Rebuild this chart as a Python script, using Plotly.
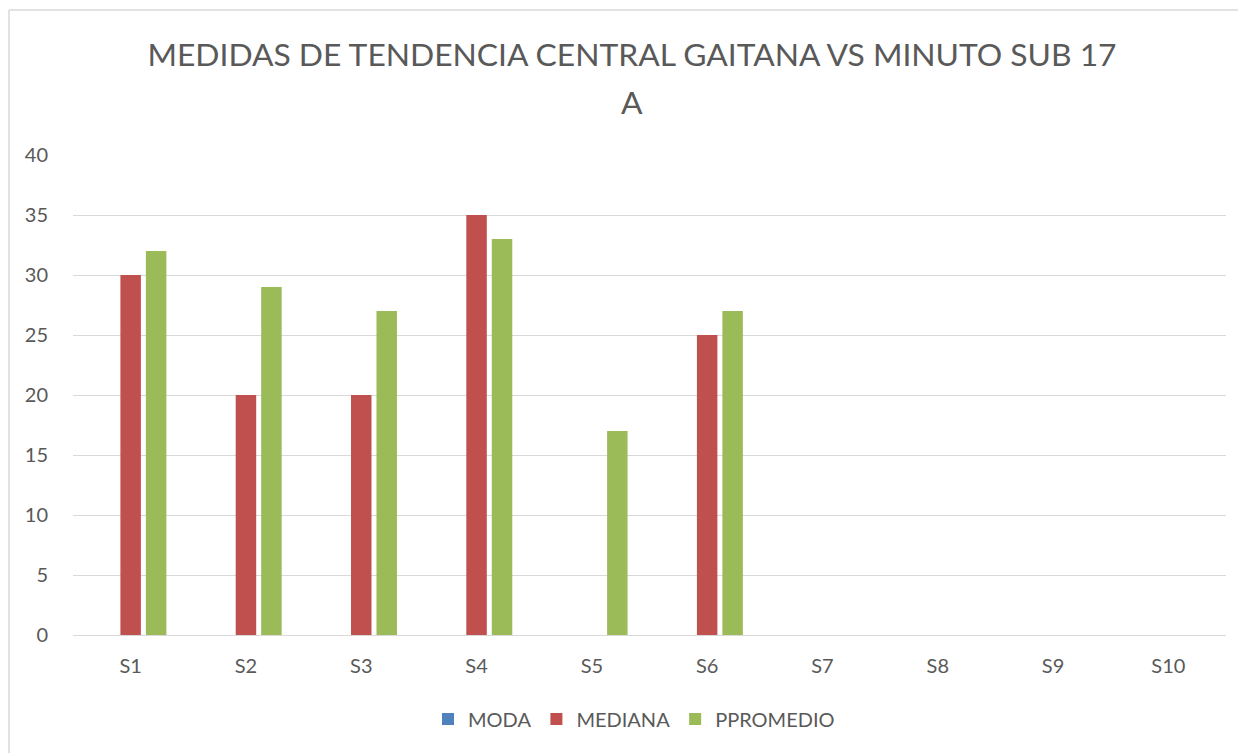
import plotly.graph_objects as go

categories = ["S1", "S2", "S3", "S4", "S5", "S6", "S7", "S8", "S9", "S10"]
moda = [0, 0, 0, 0, 0, 0, 0, 0, 0, 0]
mediana = [30, 20, 20, 35, 0, 25, 0, 0, 0, 0]
promedio = [32, 29, 27, 33, 17, 27, 0, 0, 0, 0]

series = [
    ("MODA", moda, "#4F81BD"),
    ("MEDIANA", mediana, "#C0504D"),
    ("PPROMEDIO", promedio, "#9BBB59"),
]

FONT = "Lato"
TXT = "#595959"

fig = go.Figure()
for name, vals, col in series:
    fig.add_trace(go.Bar(x=categories, y=vals, name=name, marker=dict(color=col, line=dict(width=0))))

OFF = 8  # page body margin
W, H = 1246 - OFF, 753 - OFF
L, R, T, B = 73 - OFF, 20, 155 - OFF, 118
pw, ph = W - L - R, H - T - B

def px(xv):
    return (xv - OFF - L) / pw

def py(yv):
    return (H - B - (yv - OFF)) / ph

fig.update_layout(
    width=W, height=H,
    margin=dict(l=L, r=R, t=T, b=B, pad=0),
    paper_bgcolor="white", plot_bgcolor="white",
    barmode="group", bargap=0.337, bargroupgap=0.196,
    font=dict(family=FONT, color=TXT, size=20),
    title=dict(
        text="MEDIDAS DE TENDENCIA CENTRAL GAITANA VS MINUTO SUB 17",
        x=px(632), xref="paper", xanchor="center",
        y=1 - (55 - OFF) / H, yanchor="middle", yref="container",
        font=dict(family=FONT, size=31.8, color=TXT),
    ),
    annotations=[
        dict(text="A", x=px(632), y=py(102), xref="paper", yref="paper",
             xanchor="center", yanchor="middle", showarrow=False,
             font=dict(family=FONT, size=31.8, color=TXT)),
    ],
    legend=dict(
        orientation="h", x=px(634), xanchor="center", y=py(719), yanchor="middle",
        font=dict(family=FONT, size=20, color=TXT),
        itemwidth=30, traceorder="normal",
    ),
    xaxis=dict(
        showgrid=False, showline=True, linecolor="#D9D9D9", linewidth=1,
        ticks="", tickfont=dict(family=FONT, size=20, color=TXT),
        ticklabelstandoff=13,
    ),
    yaxis=dict(
        range=[0, 40], dtick=5, showgrid=True, gridcolor="#D9D9D9", gridwidth=1,
        zeroline=True, zerolinecolor="#D9D9D9", zerolinewidth=1,
        showline=False, ticks="", tickfont=dict(family=FONT, size=20, color=TXT),
        ticklabelstandoff=24,
    ),
    shapes=[
        dict(type="line", xref="paper", yref="paper", x0=px(9), x1=px(1260), y0=py(10), y1=py(10),
             line=dict(color="#D9D9D9", width=1.5)),
        dict(type="line", xref="paper", yref="paper", x0=px(9), x1=px(9), y0=py(10), y1=py(770),
             line=dict(color="#D9D9D9", width=1.5)),
    ],
)

fig.write_html("out.html")
